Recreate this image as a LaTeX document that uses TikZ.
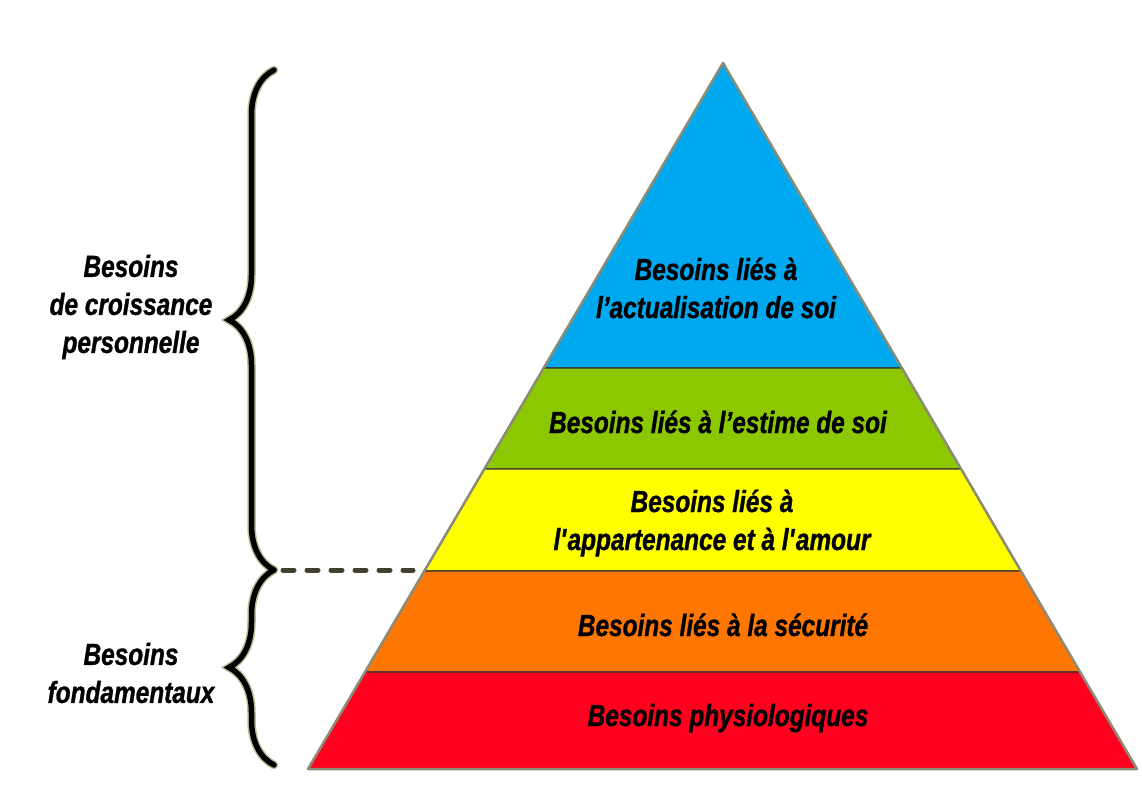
\documentclass[tikz,border=0pt]{standalone}
\usepackage{fontspec}
\setmainfont{Liberation Sans}[FakeStretch=0.8,BoldItalicFeatures={FakeBold=1}]
\usetikzlibrary{calc,decorations.pathreplacing}
\definecolor{blueLayer}{RGB}{0,168,240}
\definecolor{greenLayer}{RGB}{140,200,0}
\definecolor{yellowLayer}{RGB}{255,255,0}
\definecolor{orangeLayer}{RGB}{255,118,0}
\definecolor{redLayer}{RGB}{255,0,30}
\definecolor{rim}{RGB}{140,140,118}
\definecolor{halo}{RGB}{190,190,150}

\begin{document}
\begin{tikzpicture}[x=1pt,y=-1pt]
          \tikzstyle{layer}=[draw=black!80,line width=1.2pt]
          \tikzstyle{label}=[font=\fontsize{30.5}{38}\selectfont\bfseries\itshape,align=center]
          \tikzstyle{bracket}=[decorate,decoration={brace,amplitude=45pt},line width=5.5pt,line cap=round]

          \useasboundingbox (0,0) rectangle (1142,799);

          \begin{scope}
            \coordinate (apex) at (723,63);
            \coordinate (bl) at (308,769);
            \coordinate (br) at (1137,769);
            \coordinate (l1) at ($(apex)!0.432!(bl)$);
            \coordinate (r1) at ($(apex)!0.432!(br)$);
            \coordinate (l2) at ($(apex)!0.575!(bl)$);
            \coordinate (r2) at ($(apex)!0.575!(br)$);
            \coordinate (l3) at ($(apex)!0.7195!(bl)$);
            \coordinate (r3) at ($(apex)!0.7195!(br)$);
            \coordinate (l4) at ($(apex)!0.8626!(bl)$);
            \coordinate (r4) at ($(apex)!0.8626!(br)$);

            \filldraw[layer,fill=blueLayer] (apex) -- (r1) -- (l1) -- cycle;
            \filldraw[layer,fill=greenLayer] (l1) -- (r1) -- (r2) -- (l2) -- cycle;
            \filldraw[layer,fill=yellowLayer] (l2) -- (r2) -- (r3) -- (l3) -- cycle;
            \filldraw[layer,fill=orangeLayer] (l3) -- (r3) -- (r4) -- (l4) -- cycle;
            \filldraw[layer,fill=redLayer] (l4) -- (r4) -- (br) -- (bl) -- cycle;
            \draw[rim,line width=2.5pt,line join=round] (apex) -- (br) -- (bl) -- cycle;
          \end{scope}

          \node[label](actu) at (716,288){Besoins liés à\\l’actualisation de soi};
          \node[label,anchor=base](estime) at (718,433){Besoins liés à l’estime de soi};
          \node[label](amour) at (712,523){Besoins liés à\\l\textquotesingle appartenance et à l\textquotesingle amour};
          \node[label,anchor=base](secu) at (723,636){Besoins liés à la sécurité};
          \node[label,anchor=base](physio) at (728,726){Besoins physiologiques};

          \node[label](croiss) at (131,307){Besoins\\de croissance\\personnelle};
          \node[label](fonda) at (131,673){Besoins\\fondamentaux};

          \coordinate (top) at (274,70);
          \coordinate (split) at (274,570);
          \coordinate (bottom) at (274,765);
          \coordinate (dashEnd) at (413,570);

          \draw[bracket,halo,line width=8.5pt] (split) -- (top);
          \draw[bracket,halo,line width=8.5pt] (bottom) -- (split);
          \draw[bracket] (split) -- (top);
          \draw[bracket] (bottom) -- (split);
          \draw[black!70!olive,line width=5pt,line cap=round,dash pattern=on 11pt off 13pt]
            ($(split)+(9,0)$) -- (dashEnd);
        \end{tikzpicture}
\end{document}
